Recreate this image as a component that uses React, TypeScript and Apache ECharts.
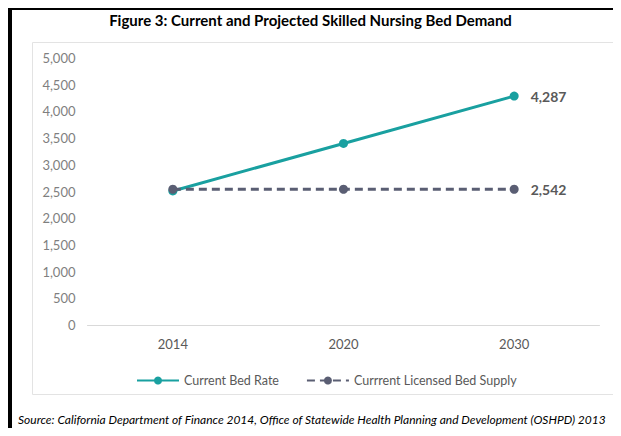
import React, { useEffect, useRef } from "react";
import * as echarts from "echarts";

const categories = ["2014", "2020", "2030"];
const currentBedRate = [2510, 3400, 4287];
const licensedBedSupply = [2542, 2542, 2542];
const seriesNames = ["Current Bed Rate", "Currrent Licensed Bed Supply"];
const titleText = "Figure 3: Current and Projected Skilled Nursing Bed Demand";
const sourceText =
  "Source: California Department of Finance 2014, Office of Statewide Health Planning and Development (OSHPD) 2013";

const TEAL = "#19A0A0";
const SLATE = "#5A5E73";
const FONT = "Lato, 'Open Sans', sans-serif";

function withLastLabel(values: number[]) {
  return values.map((v, i) => ({
    value: v,
    label: { show: i === values.length - 1 },
  }));
}

function bar(x: number, y: number, width: number, height: number) {
  return {
    type: "rect",
    shape: { x, y, width, height },
    style: { fill: "#000000" },
    silent: true,
    z: 100,
  };
}

export default function App() {
  const ref = useRef<HTMLDivElement>(null);
  useEffect(() => {
    if (!ref.current) return;
    const chart = echarts.init(ref.current, undefined, { renderer: "svg" });
    const labelStyle = {
      position: "right" as const,
      distance: 12,
      fontFamily: FONT,
      fontSize: 14,
      fontWeight: "bold" as const,
      color: "#595959",
      formatter: (p: any) => Number(p.value).toLocaleString("en-US"),
    };
    chart.setOption({
      animation: false,
      backgroundColor: "#ffffff",
      textStyle: { fontFamily: FONT },
      title: {
        text: titleText,
        left: "center",
        top: 7,
        textStyle: { fontFamily: FONT, fontSize: 15, fontWeight: "bold", color: "#000000" },
      },
      grid: { left: 87.5, right: 21.5, top: 58, bottom: 111, containLabel: false },
      legend: {
        left: 131,
        top: 369,
        itemWidth: 42,
        itemHeight: 10,
        itemGap: 27,
        textStyle: { fontFamily: FONT, fontSize: 12.5, color: "#595959" },
        data: seriesNames,
      },
      xAxis: {
        type: "category",
        data: categories,
        boundaryGap: true,
        axisLine: { show: true, lineStyle: { color: "#d9d9d9", width: 1 } },
        axisTick: { show: false },
        axisLabel: { fontFamily: FONT, fontSize: 13, color: "#595959", margin: 12 },
      },
      yAxis: {
        type: "value",
        min: 0,
        max: 5000,
        interval: 500,
        axisLine: { show: false },
        axisTick: { show: false },
        splitLine: { show: false },
        axisLabel: {
          fontFamily: FONT,
          fontSize: 13,
          color: "#7f7f7f",
          margin: 12,
          formatter: (v: number) => v.toLocaleString("en-US"),
        },
      },
      series: [
        {
          name: seriesNames[0],
          type: "line",
          data: withLastLabel(currentBedRate),
          symbol: "circle",
          symbolSize: 9,
          itemStyle: { color: TEAL },
          lineStyle: { color: TEAL, width: 3 },
          label: labelStyle,
          z: 2,
        },
        {
          name: seriesNames[1],
          type: "line",
          data: withLastLabel(licensedBedSupply),
          symbol: "circle",
          symbolSize: 9,
          itemStyle: { color: SLATE },
          lineStyle: { color: SLATE, width: 3, type: [8, 5] },
          label: labelStyle,
          z: 3,
        },
      ],
      graphic: [
        {
          type: "rect",
          shape: { x: 32.5, y: 42.5, width: 583, height: 352 },
          style: { fill: "none", stroke: "#e3e3e3", lineWidth: 1 },
          silent: true,
          z: -1,
        },
        bar(8, 6, 613, 4),
        bar(8, 432, 613, 4),
        bar(8, 6, 4, 430),
        {
          type: "text",
          x: 18,
          y: 419,
          style: {
            text: sourceText,
            fontFamily: FONT,
            fontSize: 12,
            fontStyle: "italic",
            fill: "#000000",
            verticalAlign: "middle",
          },
        },
      ],
    });
    return () => chart.dispose();
  }, []);
  return (
    <div style={{ margin: -8 }}>
      <div ref={ref} style={{ width: 621, height: 436 }} />
    </div>
  );
}
